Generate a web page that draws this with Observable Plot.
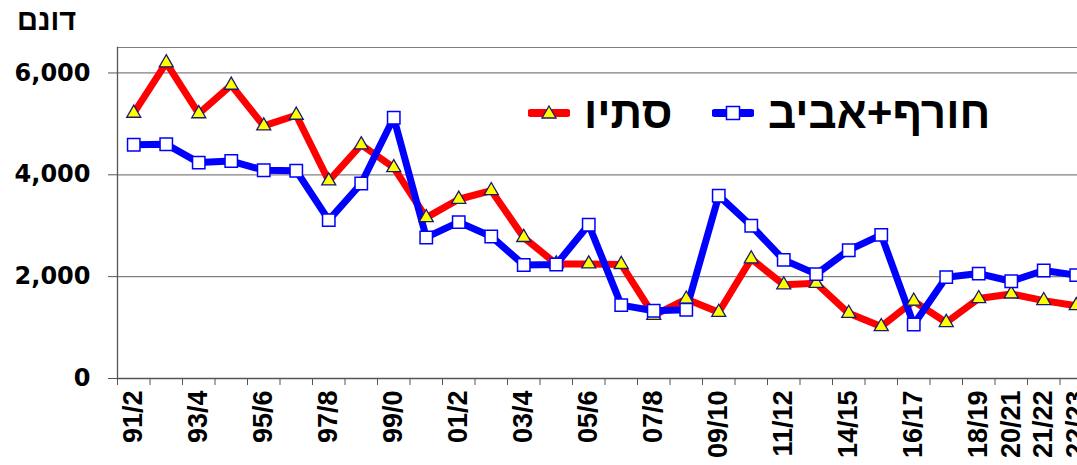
<!DOCTYPE html>
<html>
<head>
<meta charset="utf-8">
<script src="https://cdn.jsdelivr.net/npm/d3@7"></script>
<script src="https://cdn.jsdelivr.net/npm/@observablehq/plot@0.6"></script>
<style>
  html, body { margin: 0; padding: 0; background: #fff; }
  #wrap { position: relative; width: 1077px; height: 465px; overflow: hidden; }
  #chart { width: 1092px; }
  #chart svg { max-width: none !important; }
  #unit { position: absolute; left: 17px; top: 4px; font: bold 29px "Liberation Sans", Arial, sans-serif; color: #000; direction: rtl; }
  .leg { position: absolute; top: 88px; display: flex; align-items: center; direction: rtl; font: bold 44px "Liberation Sans", Arial, sans-serif; color: #000; }
  .leg svg { margin-right: 14px; }
</style>
</head>
<body>
<div id="wrap">
  <div id="chart"></div>
  <div id="unit">דונם</div>
  <div class="leg" style="left:528px">
    <span>סתיו</span>
    <svg width="42" height="20"><line x1="3" y1="10" x2="39" y2="10" stroke="#ff0000" stroke-width="8" stroke-linecap="round"/><path d="M21,3 L28,15 L14,15 Z" fill="#ffff00" stroke="#1a1a6e" stroke-width="1.3"/></svg>
  </div>
  <div class="leg" style="left:712px">
    <span>חורף+אביב</span>
    <svg width="42" height="20"><line x1="3" y1="10" x2="39" y2="10" stroke="#0000ff" stroke-width="8" stroke-linecap="round"/><rect x="14.5" y="3.5" width="13" height="13" fill="#fff" stroke="#0000ff" stroke-width="1.5"/></svg>
  </div>
</div>
<script>
const categories = ["91/2","92/3","93/4","94/5","95/6","96/7","97/8","98/9","99/0","00/1",
  "01/2","02/3","03/4","04/5","05/6","06/7","07/8","08/9","09/10","10/11",
  "11/12","12/13","14/15","15/16","16/17","17/18","18/19","20/21","21/22","22/23"];
const summer = [5210,6200,5200,5760,4960,5170,3880,4590,4140,3160,
  3520,3690,2770,2250,2250,2240,1240,1560,1300,2350,
  1840,1870,1280,1020,1520,1100,1570,1660,1530,1430];
const winterSpring = [4590,4600,4240,4270,4090,4080,3110,3830,5120,2770,
  3070,2790,2230,2240,3020,1440,1330,1350,3590,3000,
  2330,2050,2520,2820,1060,1990,2060,1910,2120,2030];
const shownLabels = ["91/2","93/4","95/6","97/8","99/0","01/2","03/4","05/6","07/8","09/10",
  "11/12","14/15","16/17","18/19","20/21","21/22","22/23"];
const yTicks = [0, 2000, 4000, 6000];
const gridValues = [2000, 4000, 6000];

const sData = summer.map((v, i) => ({i, v}));
const wData = winterSpring.map((v, i) => ({i, v}));
const boundaries = d3.range(categories.length + 1).map(k => k - 0.5);
const labelIdx = shownLabels.map(l => categories.indexOf(l));

const chart = Plot.plot({
  width: 1092,
  height: 465,
  marginLeft: 117,
  marginRight: 0,
  marginTop: 47,
  marginBottom: 87,
  x: {type: "linear", domain: [-0.5, categories.length - 0.5]},
  y: {domain: [0, 6500]},
  style: {background: "#fff", maxWidth: "none"},
  marks: [
    Plot.ruleY(gridValues, {stroke: "#808080", strokeWidth: 1.2}),
    Plot.frame({anchor: "top", stroke: "#808080", strokeWidth: 1.2}),
    Plot.axisY(yTicks, {
      tickSize: 9, tickPadding: 18, stroke: "#555",
      tickFormat: d => d3.format(",")(d),
      fontSize: 24, fontWeight: "bold", fontFamily: "DejaVu Sans, sans-serif", fill: "#000",
      label: null
    }),
    Plot.axisX(boundaries, {tickSize: 7, tickFormat: () => "", stroke: "#555", label: null}),
    Plot.axisX(labelIdx, {
      tickSize: 0, tickPadding: 12, tickRotate: -90,
      tickFormat: i => categories[i],
      fontSize: 27, fontWeight: "bold", fontFamily: "Liberation Sans, Arial, sans-serif",
      fill: "#000", label: null
    }),
    Plot.ruleY([0], {stroke: "#555", strokeWidth: 1.3}),
    Plot.frame({anchor: "left", stroke: "#555", strokeWidth: 1.3}),
    Plot.line(sData, {x: "i", y: "v", stroke: "#ff0000", strokeWidth: 7, strokeLinejoin: "round"}),
    Plot.line(wData, {x: "i", y: "v", stroke: "#0000ff", strokeWidth: 7, strokeLinejoin: "round"}),
    Plot.dot(sData, {x: "i", y: "v", symbol: "triangle", r: 5.2, fill: "#ffff00", stroke: "#1a1a6e", strokeWidth: 1.3}),
    Plot.dot(wData, {x: "i", y: "v", symbol: "square", r: 7, fill: "#ffffff", stroke: "#0000ff", strokeWidth: 1.5})
  ]
});
chart.style.maxWidth = "none";
document.getElementById("chart").appendChild(chart);
</script>
</body>
</html>
